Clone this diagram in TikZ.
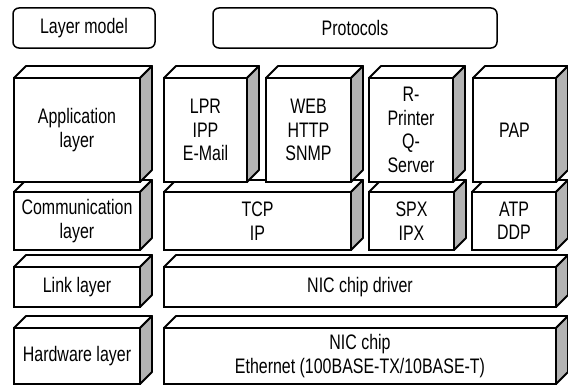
\documentclass[tikz,border=0pt]{standalone}
\usepackage{fontspec}
\setmainfont{Liberation Sans}[FakeStretch=0.76]
\usepackage{tikz}
\usetikzlibrary{calc}

\definecolor{sidegray}{HTML}{B3B3B3}

\tikzset{
  blk/.style={draw, fill=white, line width=1.8pt, anchor=south west, inner sep=0pt, outer sep=0pt,
    align=center, font=\fontsize{21}{23.5}\selectfont},
  hdr/.style={draw, rounded corners=6pt, line width=1.5pt, anchor=south west, inner sep=0pt, outer sep=0pt,
    minimum height=40, font=\fontsize{21}{23.5}\selectfont},
  blktop/.style={draw, fill=white, line width=1.8pt, line join=round},
  blkside/.style={draw, fill=sidegray, line width=1.8pt, line join=round}
}

% top and right faces of a block
\newcommand{\cubefaces}[1]{%
  \filldraw[blktop] (#1.north west) -- ++(12,12) -- ($(#1.north east)+(12,12)$) -- (#1.north east) -- cycle;
  \filldraw[blkside] (#1.north east) -- ++(12,12) -- ($(#1.south east)+(12,12)$) -- (#1.south east) -- cycle;
}

\begin{document}
\begin{tikzpicture}[x=1pt, y=1pt]
\useasboundingbox (0,0) rectangle (568,384);

% Headers
\node[hdr, minimum width=142] (model) at (13,336) {Layer model};
\node[hdr, minimum width=284] (proto) at (213,336) {Protocols};

% Hardware layer
\node[blk, minimum width=126, minimum height=56] (hw) at (14,0) {Hardware layer};
\node[blk, minimum width=392, minimum height=56] (chip) at (164,0) {NIC chip\\Ethernet (100BASE-TX/10BASE-T)};
\foreach \n in {hw,chip} {\cubefaces{\n}}

% Link layer
\node[blk, minimum width=126, minimum height=40] (link) at (14,77) {Link layer};
\node[blk, minimum width=392, minimum height=40] (driver) at (164,77) {NIC chip driver};
\foreach \n in {link,driver} {\cubefaces{\n}}

% Communication layer
\node[blk, minimum width=126, minimum height=58] (comm) at (14,134) {Communication\\layer};
\node[blk, minimum width=187, minimum height=58] (tcpip) at (164,134) {TCP\\IP};
\node[blk, minimum width=85, minimum height=58] (spx) at (369,134) {SPX\\IPX};
\node[blk, minimum width=84, minimum height=58] (atp) at (472,134) {ATP\\DDP};
\foreach \n in {comm,tcpip,spx,atp} {\cubefaces{\n}}

% Application layer
\node[blk, minimum width=126, minimum height=104] (app) at (14,202) {Application\\layer};
\node[blk, minimum width=83, minimum height=104] (lpr) at (164,202) {LPR\\IPP\\E-Mail};
\node[blk, minimum width=85, minimum height=104] (web) at (266,202) {WEB\\HTTP\\SNMP};
\node[blk, minimum width=84, minimum height=104] (rprn) at (369,202) {R-\\Printer\\Q-\\Server};
\node[blk, minimum width=83, minimum height=104] (pap) at (473,202) {PAP};
\foreach \n in {app,lpr,web,rprn,pap} {\cubefaces{\n}}

\end{tikzpicture}
\end{document}
